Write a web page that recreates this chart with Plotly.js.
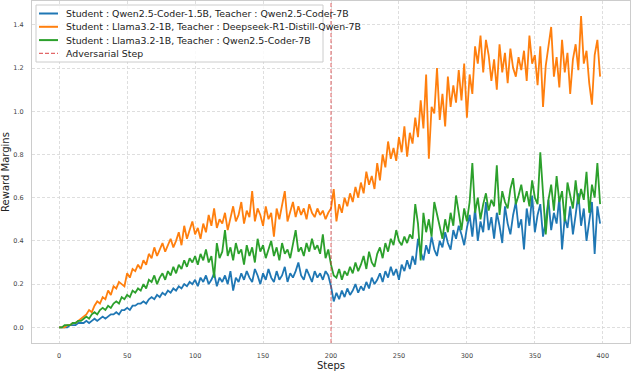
<!DOCTYPE html>
<html><head><meta charset="utf-8">
<script src="https://cdn.plot.ly/plotly-3.0.1.min.js"></script>
<style>html,body{margin:0;padding:0;background:#fff}#chart{width:632px;height:372px}</style>
</head><body><div id="chart"></div>
<script>
// Steps are sampled every 2 training steps (0..398)
const sampleEvery = 2;
const seriesNames = [
  "Student : Qwen2.5-Coder-1.5B, Teacher : Qwen2.5-Coder-7B",
  "Student : Llama3.2-1B, Teacher : Deepseek-R1-Distill-Qwen-7B",
  "Student : Llama3.2-1B, Teacher : Qwen2.5-Coder-7B"
];
const adversarialName = "Adversarial Step";
const adversarialStep = 200;

const qwenStudent = [
  0.00,0.00,0.00,0.00,0.01,0.01,0.01,0.02,0.02,0.02,
  0.03,0.02,0.03,0.04,0.03,0.04,0.05,0.04,0.05,0.06,
  0.06,0.07,0.06,0.08,0.08,0.09,0.08,0.10,0.10,0.11,
  0.11,0.12,0.11,0.13,0.14,0.13,0.15,0.14,0.16,0.15,
  0.17,0.16,0.18,0.17,0.19,0.18,0.20,0.19,0.21,0.20,
  0.22,0.19,0.23,0.21,0.24,0.20,0.22,0.25,0.19,0.23,
  0.21,0.24,0.20,0.26,0.17,0.23,0.21,0.25,0.22,0.26,
  0.23,0.21,0.27,0.24,0.20,0.25,0.22,0.27,0.23,0.21,
  0.26,0.22,0.24,0.28,0.21,0.25,0.23,0.26,0.30,0.24,
  0.22,0.27,0.24,0.21,0.26,0.23,0.25,0.22,0.26,0.24,
  0.19,0.12,0.16,0.13,0.17,0.14,0.18,0.15,0.17,0.20,
  0.16,0.19,0.17,0.21,0.18,0.23,0.20,0.22,0.25,0.21,
  0.26,0.23,0.28,0.24,0.27,0.22,0.29,0.26,0.31,0.27,
  0.33,0.29,0.41,0.35,0.31,0.38,0.34,0.42,0.36,0.33,
  0.40,0.37,0.44,0.39,0.36,0.45,0.41,0.47,0.43,0.38,
  0.46,0.52,0.42,0.55,0.40,0.49,0.44,0.58,0.45,0.51,
  0.41,0.53,0.47,0.39,0.56,0.48,0.43,0.52,0.58,0.46,
  0.50,0.36,0.55,0.47,0.61,0.44,0.52,0.57,0.42,0.49,
  0.59,0.45,0.53,0.48,0.60,0.36,0.51,0.46,0.56,0.43,
  0.52,0.62,0.47,0.55,0.40,0.50,0.58,0.34,0.56,0.48
];
const llamaDeepseek = [
  0.00,0.00,0.00,0.01,0.01,0.02,0.02,0.03,0.04,0.05,
  0.06,0.08,0.07,0.10,0.12,0.11,0.14,0.13,0.17,0.15,
  0.19,0.18,0.21,0.20,0.19,0.25,0.23,0.27,0.26,0.29,
  0.27,0.31,0.29,0.34,0.32,0.37,0.33,0.36,0.39,0.35,
  0.38,0.41,0.37,0.40,0.44,0.38,0.47,0.41,0.45,0.49,
  0.43,0.46,0.41,0.48,0.44,0.52,0.47,0.55,0.46,0.50,
  0.48,0.53,0.45,0.51,0.56,0.49,0.52,0.58,0.48,0.54,
  0.51,0.63,0.49,0.55,0.52,0.47,0.56,0.50,0.53,0.42,
  0.55,0.50,0.57,0.63,0.49,0.54,0.58,0.51,0.56,0.52,
  0.55,0.50,0.57,0.53,0.51,0.55,0.52,0.54,0.50,0.53,
  0.55,0.64,0.49,0.57,0.53,0.60,0.56,0.62,0.58,0.65,
  0.60,0.67,0.62,0.72,0.66,0.70,0.64,0.76,0.68,0.80,
  0.74,0.86,0.78,0.83,0.77,0.88,0.81,0.93,0.79,0.90,
  0.85,0.97,0.88,1.05,0.92,1.17,0.78,1.02,0.99,1.20,
  0.96,1.08,0.93,1.16,1.02,1.12,1.04,1.19,1.05,1.22,
  0.97,1.17,1.08,1.30,1.22,1.35,1.18,1.33,1.26,1.14,
  1.24,1.10,1.31,1.18,1.27,1.13,1.29,1.20,1.16,1.25,
  1.19,1.28,1.14,1.35,1.22,1.26,1.12,1.30,1.02,1.21,
  1.29,1.39,1.16,1.25,1.11,1.33,1.18,1.27,1.08,1.24,
  1.31,1.19,1.44,1.22,1.28,1.13,1.03,1.26,1.33,1.16
];
const llamaQwen = [
  0.00,0.00,0.01,0.01,0.01,0.02,0.02,0.03,0.03,0.04,
  0.05,0.04,0.06,0.07,0.06,0.08,0.09,0.08,0.10,0.09,
  0.11,0.12,0.11,0.14,0.13,0.15,0.14,0.17,0.16,0.18,
  0.17,0.20,0.18,0.22,0.21,0.24,0.20,0.23,0.25,0.22,
  0.26,0.24,0.28,0.25,0.29,0.27,0.31,0.28,0.32,0.30,
  0.33,0.29,0.34,0.31,0.36,0.30,0.33,0.23,0.39,0.32,
  0.35,0.45,0.33,0.37,0.31,0.39,0.34,0.36,0.29,0.38,
  0.33,0.37,0.30,0.41,0.35,0.38,0.32,0.36,0.40,0.33,
  0.37,0.31,0.39,0.34,0.36,0.32,0.38,0.45,0.35,0.37,
  0.33,0.39,0.35,0.41,0.36,0.38,0.34,0.43,0.32,0.36,
  0.29,0.24,0.23,0.27,0.22,0.26,0.24,0.28,0.25,0.30,
  0.26,0.29,0.33,0.27,0.35,0.30,0.28,0.34,0.37,0.32,
  0.39,0.35,0.41,0.38,0.45,0.40,0.38,0.42,0.39,0.43,
  0.41,0.57,0.48,0.31,0.53,0.44,0.50,0.42,0.58,0.52,
  0.46,0.41,0.50,0.44,0.53,0.47,0.61,0.52,0.45,0.55,
  0.49,0.58,0.76,0.53,0.60,0.50,0.57,0.62,0.54,0.59,
  0.56,0.75,0.52,0.63,0.58,0.55,0.64,0.69,0.57,0.61,
  0.66,0.58,0.63,0.56,0.68,0.60,0.57,0.81,0.62,0.43,
  0.59,0.66,0.54,0.70,0.58,0.63,0.49,0.67,0.61,0.55,
  0.68,0.57,0.64,0.59,0.72,0.53,0.66,0.60,0.76,0.57
];

const xTickVals = [0,50,100,150,200,250,300,350,400];
const yTickVals = [0.0,0.2,0.4,0.6,0.8,1.0,1.2,1.4];
const yTickText = ["0.0","0.2","0.4","0.6","0.8","1.0","1.2","1.4"];
const xRange = [-20, 420];
const yRange = [-0.0725, 1.51];

const steps = qwenStudent.map((_, i) => i * sampleEvery);
const colors = ["#1f77b4", "#ff7f0e", "#2ca02c"];
const advColor = "rgba(214,39,40,0.7)";
const seriesValues = [qwenStudent, llamaDeepseek, llamaQwen];

const traces = seriesValues.map((vals, k) => ({
  type: "scatter", mode: "lines", x: steps, y: vals, name: seriesNames[k],
  line: {color: colors[k], width: 1.8}
}));
traces.push({
  type: "scatter", mode: "lines", name: adversarialName,
  x: [adversarialStep, adversarialStep], y: yRange,
  line: {color: advColor, width: 1, dash: "4px,2px"}
});

// Layout geometry (pixels) for a compact, matplotlib-style legend box
const W = 632, H = 372;
const M = {l: 32, r: 2, t: 1, b: 29};
const pw = W - M.l - M.r, ph = H - M.t - M.b;
const px = v => (v - M.l) / pw;
const py = v => (H - M.b - v) / ph;

const font = "DejaVu Sans, Liberation Sans, Arial, sans-serif";
const legendLabels = seriesNames.concat([adversarialName]);
const legendColors = colors.concat([advColor]);
const shapes = [{
  type: "rect", xref: "paper", yref: "paper",
  x0: px(36), x1: px(323), y0: py(62), y1: py(5),
  line: {color: "#cccccc", width: 1}, fillcolor: "rgba(255,255,255,0.85)", layer: "above"
}];
const annotations = [];
legendLabels.forEach((lab, k) => {
  const rowY = 13.5 + k * 13.3;
  shapes.push({
    type: "line", xref: "paper", yref: "paper", layer: "above",
    x0: px(39), x1: px(58), y0: py(rowY), y1: py(rowY),
    line: {color: legendColors[k], width: k === 3 ? 1.3 : 2, dash: k === 3 ? "4px,2px" : "solid"}
  });
  annotations.push({
    xref: "paper", yref: "paper", x: px(64), y: py(rowY),
    xanchor: "left", yanchor: "middle", showarrow: false, text: lab,
    font: {family: font, size: 9.4, color: "#222222"}
  });
});

const layout = {
  width: W, height: H, margin: M,
  paper_bgcolor: "#ffffff", plot_bgcolor: "#ffffff",
  font: {family: font, color: "#333333", size: 6.5},
  showlegend: false, shapes: shapes, annotations: annotations,
  xaxis: {
    range: xRange, tickmode: "array", tickvals: xTickVals,
    showgrid: true, gridcolor: "#d6d6d6", gridwidth: 0.8, griddash: "3px,2px",
    zeroline: false, showline: true, linecolor: "#cccccc", linewidth: 1, mirror: true,
    ticks: "outside", ticklen: 6, tickcolor: "rgba(0,0,0,0)",
    tickfont: {size: 6.5, color: "#444444"},
    title: {text: "Steps", font: {size: 10, color: "#222222"}, standoff: 2}
  },
  yaxis: {
    range: yRange, tickmode: "array", tickvals: yTickVals, ticktext: yTickText,
    showgrid: true, gridcolor: "#d6d6d6", gridwidth: 0.8, griddash: "3px,2px",
    zeroline: false, showline: true, linecolor: "#cccccc", linewidth: 1, mirror: true,
    ticks: "outside", ticklen: 6, tickcolor: "rgba(0,0,0,0)",
    tickfont: {size: 6.5, color: "#444444"},
    title: {text: "Reward Margins", font: {size: 10, color: "#222222"}, standoff: 3}
  }
};
Plotly.newPlot("chart", traces, layout, {staticPlot: true, displayModeBar: false});
</script></body></html>
